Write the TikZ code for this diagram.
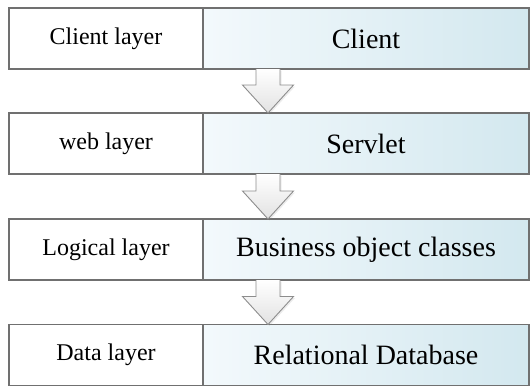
\documentclass[tikz,border=0pt]{standalone}
\usepackage{fontspec}
\setmainfont{Liberation Serif}
\usepackage{tikz}
\usetikzlibrary{calc,positioning,shadows}
\definecolor{framegray}{HTML}{707070}
\definecolor{paleblue}{HTML}{F3F9FC}
\definecolor{layerblue}{HTML}{D3E8EF}
\definecolor{arrowgray}{HTML}{E2E2E2}
\tikzset{
  layerbox/.style={draw=framegray, line width=1.3pt, fill=white, outer sep=0pt,
    minimum width=194pt, minimum height=61pt, inner sep=0pt,
    font=\fontsize{24}{26}\selectfont},
  partbox/.style={draw=framegray, line width=1.3pt, outer sep=0pt,
    left color=paleblue, right color=layerblue,
    minimum width=326pt, minimum height=61pt, inner sep=0pt,
    font=\fontsize{28}{30}\selectfont},
  blockarrow/.style={draw=framegray!80, line width=0.9pt, line join=miter,
    top color=white, bottom color=arrowgray,
    drop shadow={opacity=0.15, shadow xshift=1.5pt, shadow yshift=-1.5pt}}
}

\begin{document}
\begin{tikzpicture}[x=1pt,y=-1pt]
    \useasboundingbox (0,0) rectangle (532,386);

    % Layer names and their parts
    \node[layerbox] (cl) at (106,38.5) {Client layer};
    \node[partbox, right=0pt of cl] (cr) {Client};

    \node[layerbox] (wl) at (106,143.5) {web layer};
    \node[partbox, right=0pt of wl] (wr) {Servlet};

    \node[layerbox] (ll) at (106,249.5) {Logical layer};
    \node[partbox, right=0pt of ll] (lr) {Business object classes};

    \node[layerbox] (dl) at (106,355) {Data layer};
    \node[partbox, right=0pt of dl] (dr) {Relational Database};

    % Block arrows between the layers
    \foreach \a/\b in {cr/wr, lr/dr, wr/lr}
      \draw[blockarrow]
        let \p1=($(\a.south west)+(65,0)$), \p2=($(\b.north west)+(65,0)$) in
        (\x1-12pt,\y1) -- (\x1-12pt,\y2+28pt) -- (\x1-25.5pt,\y2+28pt)
        -- (\x2,\y2) -- (\x1+25.5pt,\y2+28pt) -- (\x1+12pt,\y2+28pt)
        -- (\x1+12pt,\y1);
\end{tikzpicture}
\end{document}
